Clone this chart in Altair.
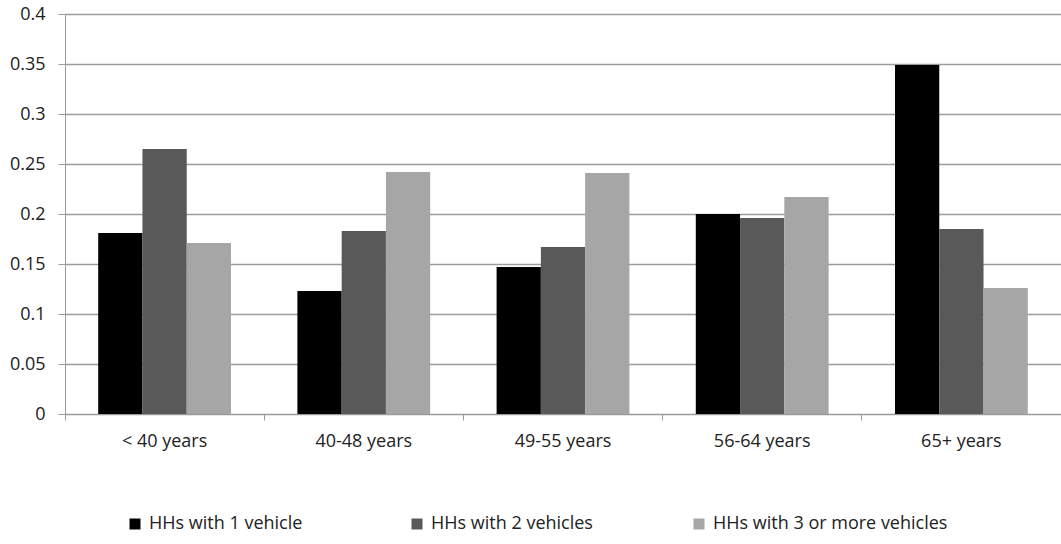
import altair as alt
import pandas as pd

categories = ["< 40 years", "40-48 years", "49-55 years", "56-64 years", "65+ years"]
series = ["HHs with 1 vehicle", "HHs with 2 vehicles", "HHs with 3 or more vehicles"]
one_vehicle = [0.181, 0.123, 0.147, 0.200, 0.349]
two_vehicles = [0.265, 0.183, 0.167, 0.196, 0.185]
three_plus = [0.171, 0.242, 0.241, 0.217, 0.126]
colors = ["#000000", "#595959", "#a6a6a6"]
y_ticks = [0, 0.05, 0.1, 0.15, 0.2, 0.25, 0.3, 0.35, 0.4]

rows = []
for s, vals in zip(series, [one_vehicle, two_vehicles, three_plus]):
    for c, v in zip(categories, vals):
        rows.append({"age": c, "series": s, "value": v})
df = pd.DataFrame(rows)

FONT = "Open Sans"

chart = alt.Chart(df).mark_bar().encode(
    x=alt.X("age:N", sort=categories,
            scale=alt.Scale(paddingInner=0, paddingOuter=0),
            axis=alt.Axis(title=None, labelAngle=0, bandPosition=0,
                          grid=False, domainColor="#9a9a9a", tickColor="#9a9a9a",
                          tickSize=6, labelPadding=12, labelFontSize=18,
                          labelFont=FONT, labelColor="#222222")),
    xOffset=alt.XOffset("series:N", sort=series,
                        scale=alt.Scale(paddingInner=0, paddingOuter=0.75)),
    y=alt.Y("value:Q", scale=alt.Scale(domain=[0, 0.4], nice=False),
            axis=alt.Axis(title=None, values=y_ticks, format=".2~f",
                          grid=True, gridColor="#9c9c9c", gridWidth=1.5,
                          domainColor="#9a9a9a", tickColor="#9a9a9a",
                          tickSize=7, labelPadding=13, labelFontSize=18,
                          labelFont=FONT, labelColor="#222222")),
    color=alt.Color("series:N", sort=series,
                    scale=alt.Scale(domain=series, range=colors),
                    legend=alt.Legend(title=None, orient="none", direction="horizontal",
                                      columns=3, gridAlign="all", columnPadding=24,
                                      legendX=61, legendY=501,
                                      symbolType="square", symbolSize=121,
                                      symbolStrokeWidth=0, labelOffset=5,
                                      labelFont=FONT, labelFontSize=18,
                                      labelColor="#222222", labelLimit=400, padding=0)),
).properties(
    width=996, height=400,
    autosize=alt.AutoSizeParams(type="none"),
    padding={"left": 65, "top": 14, "right": 0, "bottom": 130},
).configure_view(stroke=None).configure(background="white")

chart.save("out.html", embed_options={"renderer": "svg", "actions": False})
